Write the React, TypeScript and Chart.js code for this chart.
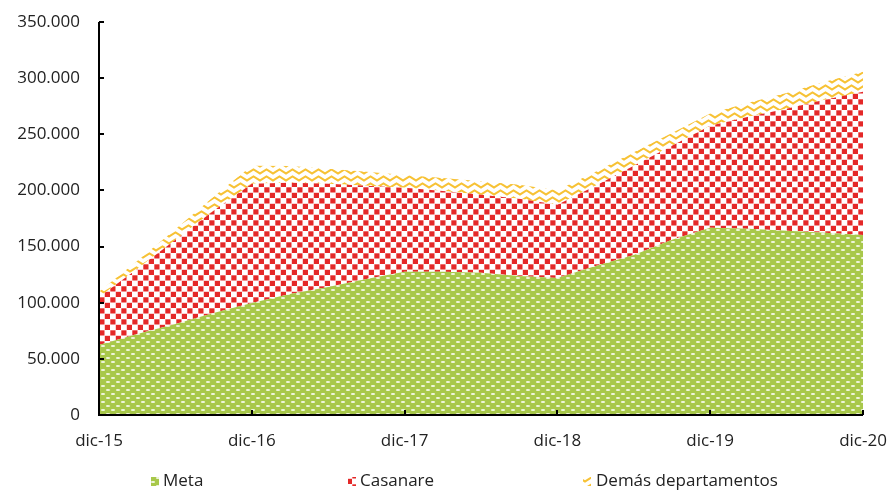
import React, { useEffect, useRef } from "react";
import { Chart, registerables } from "chart.js";

Chart.register(...registerables);

const labels = [
  "dic-15", "mar-16", "jun-16", "sep-16",
  "dic-16", "mar-17", "jun-17", "sep-17",
  "dic-17", "mar-18", "jun-18", "sep-18",
  "dic-18", "mar-19", "jun-19", "sep-19",
  "dic-19", "mar-20", "jun-20", "sep-20",
  "dic-20",
];

const meta = [
  62400, 72200, 81100, 90900,
  99800, 107800, 114100, 121200,
  127500, 127500, 126600, 123900,
  122100, 132800, 142600, 156000,
  166700, 165800, 164000, 162200,
  160400,
];

const casanare = [
  42800, 57900, 74900, 90900,
  106100, 99000, 91800, 82900,
  74800, 72100, 69500, 68600,
  65100, 71300, 79300, 83700,
  90900, 99800, 108700, 118500,
  127500,
];

const demas = [
  4500, 7000, 9500, 12500,
  16000, 15000, 13500, 12500,
  11500, 11500, 12000, 12500,
  13000, 12500, 12000, 11500,
  11000, 12500, 14000, 16000,
  17800,
];

const yTicks = [0, 50000, 100000, 150000, 200000, 250000, 300000, 350000];

const FONT = "'Open Sans', 'DejaVu Sans', sans-serif";

function fmt(v: number): string {
  if (v === 0) return "0";
  return String(v).replace(/\B(?=(\d{3})+(?!\d))/g, ".");
}

function makeTile(w: number, h: number, draw: (c: CanvasRenderingContext2D) => void) {
  const cv = document.createElement("canvas");
  cv.width = w;
  cv.height = h;
  const c = cv.getContext("2d")!;
  draw(c);
  return cv;
}

function greenPattern(ctx: CanvasRenderingContext2D) {
  const t = makeTile(10, 8, (c) => {
    c.fillStyle = "#A8C84A";
    c.fillRect(0, 0, 10, 8);
    c.fillStyle = "rgba(255,255,255,0.85)";
    const dash = (x: number, y: number) => {
      c.beginPath();
      c.ellipse(x, y, 2.2, 0.9, 0, 0, Math.PI * 2);
      c.fill();
    };
    dash(3, 2);
    dash(8, 6);
    dash(-2, 6);
    dash(13, 2);
  });
  return ctx.createPattern(t, "repeat")!;
}

function redPattern(ctx: CanvasRenderingContext2D) {
  const t = makeTile(11, 11, (c) => {
    c.fillStyle = "#FFFFFF";
    c.fillRect(0, 0, 11, 11);
    c.fillStyle = "#E42828";
    c.fillRect(0.3, 0.3, 5.2, 5.2);
    c.fillRect(5.8, 5.8, 5.2, 5.2);
  });
  return ctx.createPattern(t, "repeat")!;
}

function yellowPattern(ctx: CanvasRenderingContext2D) {
  const t = makeTile(13, 7, (c) => {
    c.fillStyle = "#FFFFFF";
    c.fillRect(0, 0, 13, 7);
    c.strokeStyle = "#F7C235";
    c.lineWidth = 2;
    c.beginPath();
    c.moveTo(-3.25, 3.5);
    c.lineTo(0, 5.5);
    c.lineTo(6.5, 1.5);
    c.lineTo(13, 5.5);
    c.lineTo(16.25, 3.5);
    c.stroke();
  });
  return ctx.createPattern(t, "repeat")!;
}

const axesPlugin = {
  id: "inwardAxes",
  afterDatasetsDraw(chart: any) {
    const { ctx, chartArea, scales } = chart;
    const x = scales.x;
    const y = scales.y;
    ctx.save();
    ctx.strokeStyle = "#000000";
    ctx.lineWidth = 2;
    ctx.beginPath();
    ctx.moveTo(chartArea.left, y.getPixelForValue(350000));
    ctx.lineTo(chartArea.left, chartArea.bottom);
    ctx.lineTo(chartArea.right, chartArea.bottom);
    ctx.stroke();
    ctx.beginPath();
    for (const v of yTicks) {
      const py = Math.round(y.getPixelForValue(v));
      ctx.moveTo(chartArea.left, py);
      ctx.lineTo(chartArea.left + 5, py);
    }
    labels.forEach((_l, i) => {
      if (i % 4 === 0) {
        const px = Math.round(x.getPixelForValue(i));
        ctx.moveTo(px, chartArea.bottom);
        ctx.lineTo(px, chartArea.bottom - 5);
      }
    });
    ctx.stroke();
    ctx.restore();
  },
};

const legendItems = [
  { box: 151, text: 163 },
  { box: 348, text: 360 },
  { box: 583, text: 596 },
];

const legendPlugin = {
  id: "customLegend",
  afterDraw(chart: any) {
    const { ctx } = chart;
    const cy = 481;
    ctx.save();
    ctx.font = `17px ${FONT}`;
    ctx.textBaseline = "middle";
    ctx.textAlign = "left";
    chart.data.datasets.forEach((ds: any, i: number) => {
      const it = legendItems[i];
      ctx.fillStyle = ds.backgroundColor;
      ctx.fillRect(it.box, cy - 4, 8, 9);
      ctx.fillStyle = "#222222";
      ctx.fillText(ds.label, it.text, cy);
    });
    ctx.restore();
  },
};

export default function App() {
  const ref = useRef<HTMLCanvasElement | null>(null);

  useEffect(() => {
    document.body.style.margin = "0";
    const canvas = ref.current!;
    const ctx = canvas.getContext("2d")!;
    const chart = new Chart(canvas, {
      type: "line",
      data: {
        labels,
        datasets: [
          {
            label: "Meta",
            data: meta,
            backgroundColor: greenPattern(ctx),
            borderWidth: 0,
            pointRadius: 0,
            fill: "origin",
            tension: 0,
          },
          {
            label: "Casanare",
            data: casanare,
            backgroundColor: redPattern(ctx),
            borderWidth: 0,
            pointRadius: 0,
            fill: "-1",
            tension: 0,
          },
          {
            label: "Demás departamentos",
            data: demas,
            backgroundColor: yellowPattern(ctx),
            borderWidth: 0,
            pointRadius: 0,
            fill: "-1",
            tension: 0,
          },
        ],
      },
      options: {
        animation: false,
        responsive: true,
        maintainAspectRatio: false,
        layout: { padding: { left: 0, right: 28, top: 22, bottom: 35 } },
        plugins: {
          legend: { display: false },
          tooltip: { enabled: false },
        },
        scales: {
          x: {
            offset: false,
            grid: { display: false, drawTicks: false },
            border: { display: false },
            ticks: {
              autoSkip: false,
              maxRotation: 0,
              padding: 16,
              color: "#222222",
              font: { family: FONT, size: 17 },
              callback: (_v: any, i: number) => (i % 4 === 0 ? labels[i] : ""),
            },
            afterFit: (s: any) => {
              s.height = 40;
              s.paddingLeft = 0;
              s.paddingRight = 0;
            },
          },
          y: {
            stacked: true,
            min: 0,
            max: 350000,
            grid: { display: false, drawTicks: false },
            border: { display: false },
            afterBuildTicks: (s: any) => {
              s.ticks = yTicks.map((v) => ({ value: v }));
            },
            ticks: {
              padding: 19,
              color: "#222222",
              font: { family: FONT, size: 17 },
              callback: (v: any) => fmt(Number(v)),
            },
            afterFit: (s: any) => {
              s.width = 99;
              s.paddingTop = 0;
              s.paddingBottom = 0;
            },
          },
        },
      },
      plugins: [axesPlugin, legendPlugin],
    });
    return () => chart.destroy();
  }, []);

  return (
    <div style={{ position: "absolute", left: 0, top: 0, width: 891, height: 490 }}>
      <canvas ref={ref} />
    </div>
  );
}
